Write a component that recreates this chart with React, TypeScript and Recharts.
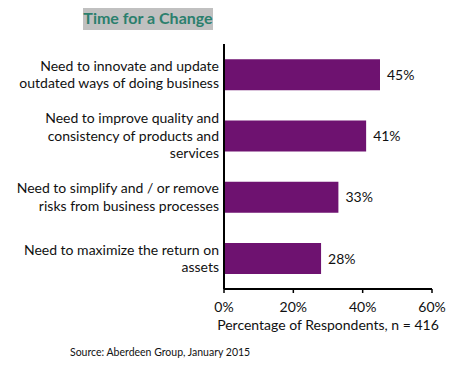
import React from "react";
import { BarChart, Bar, XAxis, YAxis, LabelList } from "recharts";

const categories: string[] = [
  "Need to innovate and update\noutdated ways of doing business",
  "Need to improve quality and\nconsistency of products and\nservices",
  "Need to simplify and / or remove\nrisks from business processes",
  "Need to maximize the return on\nassets",
];
const values: number[] = [45, 41, 33, 28];
const xTicks: number[] = [0, 20, 40, 60];
const title = "Time for a Change";
const xAxisTitle = "Percentage of Respondents, n = 416";
const source = "Source: Aberdeen Group, January 2015";

const data = categories.map((c, i) => ({ name: c, value: values[i] }));

const FONT = "Lato, 'Open Sans', sans-serif";

const CategoryTick = (props: any) => {
  const { x, y, payload } = props;
  const lines: string[] = String(payload.value).split("\n");
  const lh = 17.5;
  const start = y - ((lines.length - 1) * lh) / 2;
  return (
    <text x={x} y={start} textAnchor="end" fontFamily={FONT} fontSize={14} fill="#111">
      {lines.map((l, i) => (
        <tspan key={i} x={x} y={start + i * lh} dy="0.35em">
          {l}
        </tspan>
      ))}
    </text>
  );
};

const PercentTick = (props: any) => {
  const { x, payload } = props;
  return (
    <text x={x} y={307} textAnchor="middle" dy="0.35em" fontFamily={FONT} fontSize={14} fill="#111">
      {`${payload.value}%`}
    </text>
  );
};

export default function App() {
  return (
    <div style={{ position: "relative", width: 467, height: 367, margin: -8, background: "#fff", fontFamily: FONT }}>
      <div
        style={{
          position: "absolute",
          left: 83,
          top: 6,
          width: 130,
          height: 24,
          background: "#c0c0c0",
          color: "#2b7f6d",
          fontWeight: 700,
          fontSize: 16,
          lineHeight: "24px",
          textAlign: "center",
          whiteSpace: "nowrap",
        }}
      >
        {title}
      </div>
      <div style={{ position: "absolute", left: 0, top: 0 }}>
        <BarChart
          width={467}
          height={367}
          data={data}
          layout="vertical"
          margin={{ top: 44, right: 35, left: 0, bottom: 33 }}
          barCategoryGap="25%"
        >
          <XAxis
            type="number"
            domain={[0, 60]}
            ticks={xTicks}
            axisLine={{ stroke: "#000", strokeWidth: 2 }}
            tickLine={{ stroke: "#000", strokeWidth: 1.5 }}
            tickSize={4}
            tick={<PercentTick />}
            height={45}
            interval={0}
            label={{
              value: xAxisTitle,
              position: "insideBottom",
              offset: 4,
              fill: "#111",
              fontSize: 14,
              fontFamily: FONT,
            }}
          />
          <YAxis
            type="category"
            dataKey="name"
            width={224}
            axisLine={{ stroke: "#000", strokeWidth: 2 }}
            tickLine={false}
            tickSize={0}
            tickMargin={5}
            tick={<CategoryTick />}
            interval={0}
          />
          <Bar dataKey="value" fill="#6e1270" isAnimationActive={false}>
            <LabelList
              dataKey="value"
              position="right"
              offset={7}
              formatter={(v: any) => `${v}%`}
              style={{ fill: "#111", fontSize: 14, fontFamily: FONT }}
            />
          </Bar>
        </BarChart>
      </div>
      <div
        style={{
          position: "absolute",
          left: 70,
          top: 345,
          fontSize: 10.5,
          color: "#111",
          whiteSpace: "nowrap",
          lineHeight: "14px",
        }}
      >
        {source}
      </div>
    </div>
  );
}
